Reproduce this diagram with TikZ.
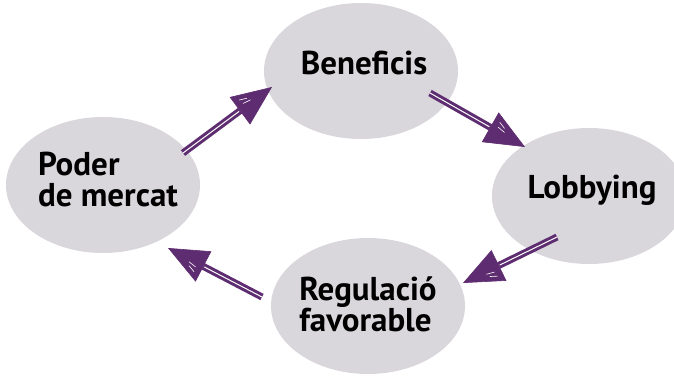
\documentclass[tikz,border=0pt]{standalone}
\usepackage{fontspec}
\setmainfont{PT Sans}
\usetikzlibrary{arrows.meta,calc,decorations.markings,shapes.geometric}
\definecolor{bubblegray}{RGB}{217,214,220}
\definecolor{lobbyviolet}{RGB}{94,44,112}
\tikzset{%
	bubble/.style     = {ellipse, fill=bubblegray, minimum width=194pt, minimum height=136pt, inner sep=0pt}, % Cercle gris
	bubbletext/.style = {font=\bfseries\fontsize{33}{31}\selectfont, align=left, inner sep=0pt}, % Text
	flow/.style       = {draw=lobbyviolet, line width=7pt,
		-{Triangle[length=40pt,width=34pt,line width=0.6pt]},
		postaction={draw=white, line width=1pt, -, shorten >=41pt},
		postaction={decorate},
		decoration={markings, mark=at position 1 with {
			\draw[white, -, line width=0.6pt, line cap=round] (-34pt,9pt) -- (-27pt,6pt);
			\draw[white, -, line width=0.6pt, line cap=round] (-33pt,4pt) -- (-25pt,2.5pt);
		}}},
}
\begin{document}
\begin{tikzpicture}[x=1pt,y=-1pt]
	\useasboundingbox (0,0) rectangle (674,377);
	\clip (0,0) rectangle (674,377);
	\node [bubble, label={[bubbletext, xshift=5pt, yshift=5pt]center:Poder\\de mercat}] (poder) at (103,185) {};
	\node [bubble, label={[bubbletext, xshift=3pt, yshift=8pt]center:Beneficis}] (benef) at (361,71) {};
	\node [bubble, label={[bubbletext, xshift=3pt, yshift=6pt]center:Lobbying}] (lobby) at (589,196) {};
	\node [bubble, label={[bubbletext, yshift=2pt]center:Regulació\\favorable}] (regul) at (368,306) {};

	\draw[flow] ($(poder)+(80,-32)$) -- ($(benef)+(-89,16)$);
	\draw[flow] ($(benef)+(69,22)$) -- ($(lobby)+(-64,-49)$);
	\draw[flow] ($(lobby)+(-32,41)$) -- ($(regul)+(95,-23)$);
	\draw[flow] ($(regul)+(-106,-9)$) -- ($(poder)+(65,63)$);
\end{tikzpicture}
\end{document}
